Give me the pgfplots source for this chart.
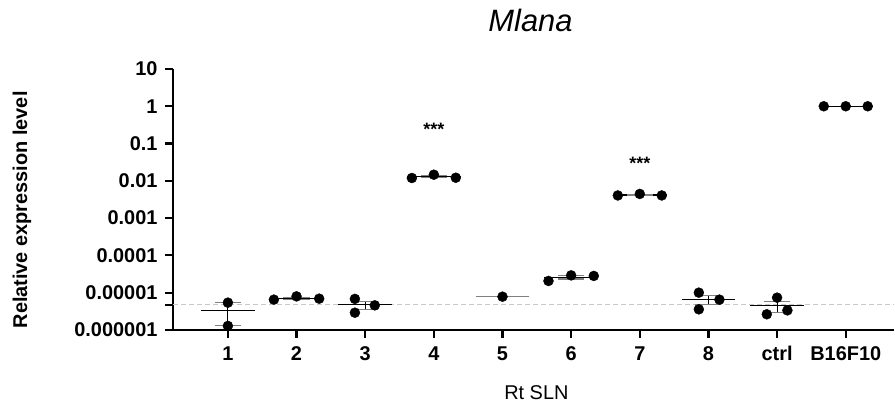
\documentclass[border=0pt]{standalone}
\usepackage{fontspec}
\setmainfont{Liberation Sans}
\usepackage{pgfplots}
\pgfplotsset{compat=1.18}
\begin{document}
\begin{tikzpicture}
\begin{axis}[
  name=ax,
  scale only axis,
  width=721bp, height=261bp,
  ymode=log,
  xmin=0.2, xmax=10.7,
  ymin=1e-6, ymax=10,
  axis lines=left,
  axis line style={-, line width=2.4bp, black},
  clip=false,
  xtick={1,2,3,4,5,6,7,8,9,10},
  xticklabels={1,2,3,4,5,6,7,8,ctrl,B16F10},
  ytick={1e-6,1e-5,1e-4,1e-3,1e-2,1e-1,1,10},
  yticklabels={0.000001,0.00001,0.0001,0.001,0.01,0.1,1,10},
  extra y ticks={4.7e-6},
  extra y tick labels={},
  minor y tick style={draw=none},
  tick align=outside,
  major tick length=8bp,
  tick style={line width=2.2bp, black},
  tick label style={font=\fontsize{20}{24}\selectfont\bfseries},
  xticklabel style={anchor=base, yshift=-23bp},
  yticklabel style={anchor=east, xshift=-4bp},
  ylabel={Relative expression level},
  ylabel style={at={(axis description cs:-0.2094,0.46)}, anchor=center, font=\fontsize{20}{24}\selectfont\bfseries},
  title={\itshape Mlana},
  title style={at={(axis description cs:0.496,1.1215)}, anchor=base, font=\fontsize{31}{36}\selectfont},
  unbounded coords=jump,
]
% dashed reference line
\addplot[draw={rgb,255:red,200;green,200;blue,200}, line width=1bp, dash pattern=on 5bp off 3bp] coordinates {(0.2,4.7e-6) (10.7,4.7e-6)};
% mean lines
\addplot[black, line width=1.3bp] coordinates {
(0.61,3.335e-6) (1.39,3.335e-6) (1.5,nan)
(1.61,7.117e-6) (2.39,7.117e-6) (2.5,nan)
(2.61,4.757e-6) (3.39,4.757e-6) (3.5,nan)
(3.61,0.01287) (4.39,0.01287) (4.5,nan)
(5.61,2.593e-5) (6.39,2.593e-5) (6.5,nan)
(6.61,0.004183) (7.39,0.004183) (7.5,nan)
(7.61,6.69e-6) (8.39,6.69e-6) (8.5,nan)
(8.61,4.44e-6) (9.39,4.44e-6) (9.5,nan)
(9.61,1.0) (10.39,1.0)
};
\addplot[gray, line width=1.3bp] coordinates {(4.61,7.8e-6) (5.39,7.8e-6)};
% SEM error bars: vertical parts
\addplot[black, line width=0.9bp] coordinates {
(1,1.28e-6) (1,5.39e-6) (1.5,nan)
(2,6.685e-6) (2,7.549e-6) (2.5,nan)
(3,3.627e-6) (3,5.887e-6) (3.5,nan)
(4,0.012002) (4,0.013738) (4.5,nan)
(6,2.325e-5) (6,2.861e-5) (6.5,nan)
(7,0.00405) (7,0.004316) (7.5,nan)
(8,4.83e-6) (8,8.55e-6) (8.5,nan)
(9,2.975e-6) (9,5.905e-6)
};
% SEM error bars: caps
\addplot[gray, line width=1.1bp] coordinates {
(0.81,1.28e-6) (1.19,1.28e-6) (1.5,nan)
(0.81,5.39e-6) (1.19,5.39e-6) (1.5,nan)
(1.81,6.685e-6) (2.19,6.685e-6) (2.5,nan)
(1.81,7.549e-6) (2.19,7.549e-6) (2.5,nan)
(2.81,3.627e-6) (3.19,3.627e-6) (3.5,nan)
(2.81,5.887e-6) (3.19,5.887e-6) (3.5,nan)
(3.81,0.012002) (4.19,0.012002) (4.5,nan)
(3.81,0.013738) (4.19,0.013738) (4.5,nan)
(5.81,2.325e-5) (6.19,2.325e-5) (6.5,nan)
(5.81,2.861e-5) (6.19,2.861e-5) (6.5,nan)
(6.81,0.00405) (7.19,0.00405) (7.5,nan)
(6.81,0.004316) (7.19,0.004316) (7.5,nan)
(7.81,4.83e-6) (8.19,4.83e-6) (8.5,nan)
(7.81,8.55e-6) (8.19,8.55e-6) (8.5,nan)
(8.81,2.975e-6) (9.19,2.975e-6) (9.5,nan)
(8.81,5.905e-6) (9.19,5.905e-6)
};
% individual points
\addplot[only marks, mark=*, mark size=5bp, mark options={fill=black, draw=black}] coordinates {
(1,5.39e-6) (1,1.28e-6)
(1.67,6.5e-6) (2,7.95e-6) (2.33,6.9e-6)
(2.85,6.8e-6) (2.85,2.9e-6) (3.14,4.57e-6)
(3.68,0.0119) (4,0.0146) (4.32,0.0121)
(5,7.8e-6)
(5.67,2.06e-5) (6,2.91e-5) (6.33,2.81e-5)
(6.68,0.00405) (7,0.00445) (7.32,0.00405)
(7.86,1.0e-5) (7.86,3.57e-6) (8.16,6.5e-6)
(8.85,2.63e-6) (9,7.34e-6) (9.15,3.35e-6)
(9.68,1.0) (10,1.0) (10.32,1.0)
};
\node[anchor=base, font=\fontsize{18}{20}\selectfont\bfseries] at (axis cs:4,0.162) {***};
\node[anchor=base, font=\fontsize{18}{20}\selectfont\bfseries] at (axis cs:7,0.0205) {***};
\end{axis}
\node[anchor=base, font=\fontsize{20}{24}\selectfont] at ([xshift=3bp, yshift=-70bp]ax.south) {Rt SLN};
\path ([xshift=-173bp, yshift=-74bp]ax.south west) rectangle ([xshift=1bp, yshift=69bp]ax.north east);
\end{tikzpicture}
\end{document}
